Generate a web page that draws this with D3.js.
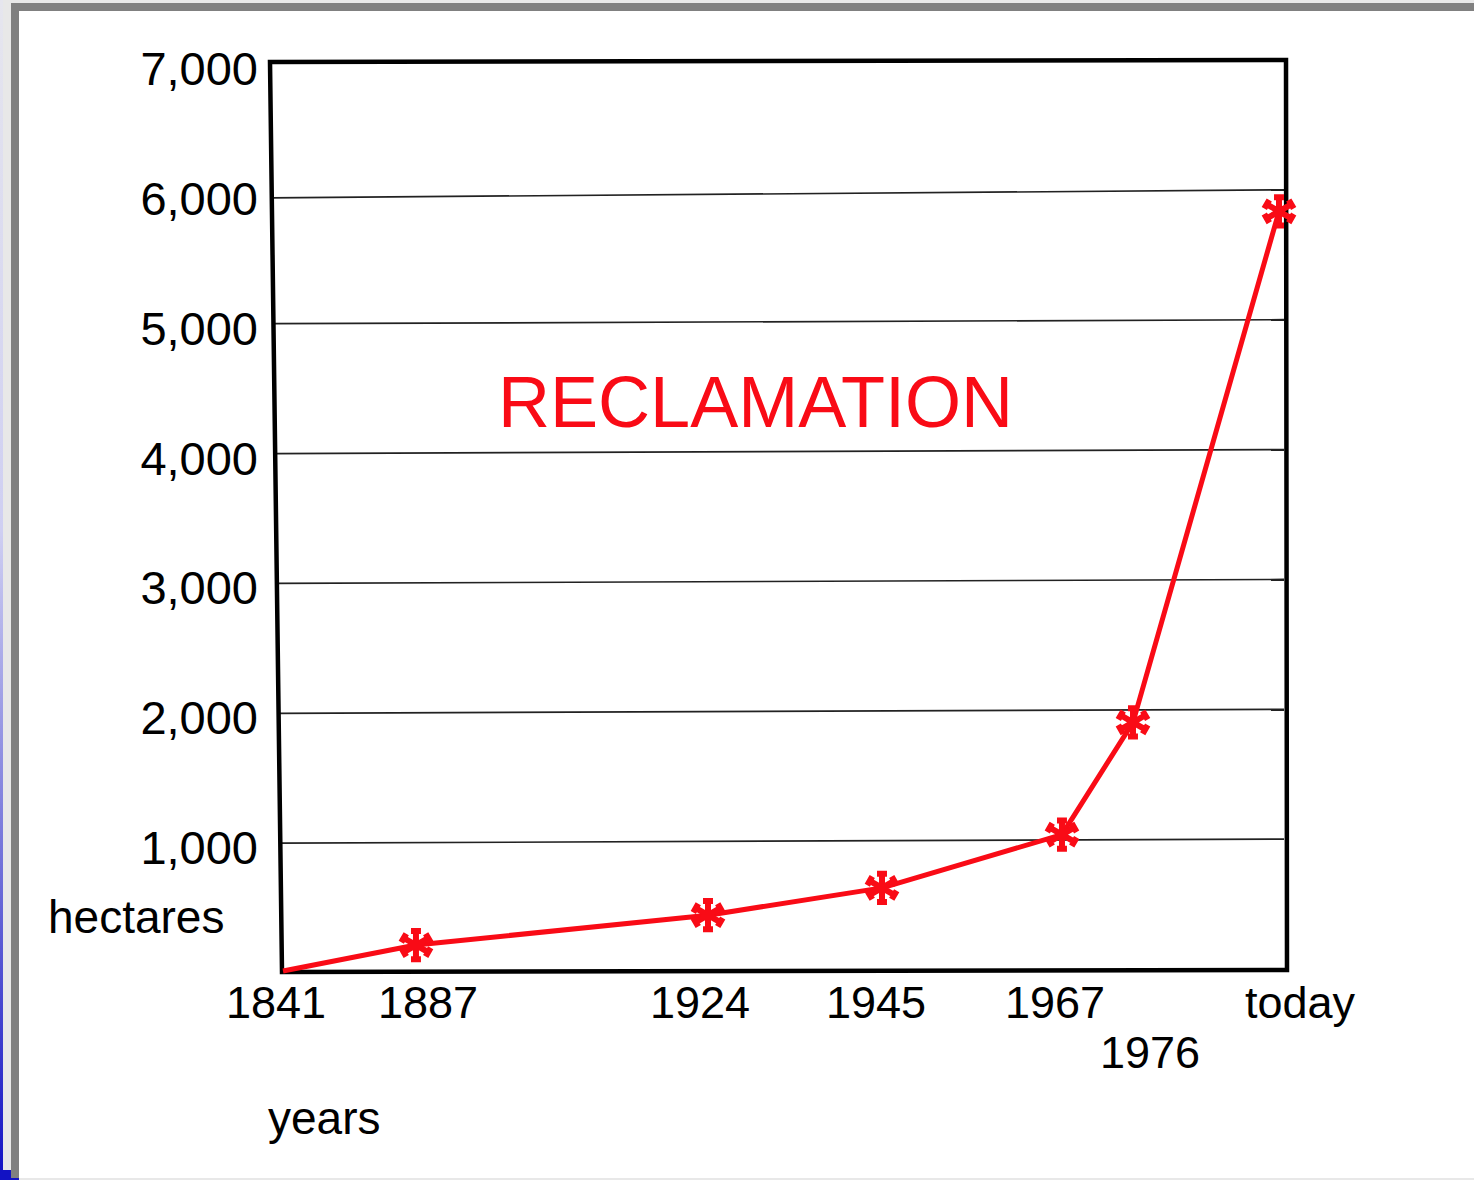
<!DOCTYPE html>
<html>
<head>
<meta charset="utf-8">
<script src="https://cdn.jsdelivr.net/npm/d3@7"></script>
<style>
  html, body { margin: 0; padding: 0; background: #ffffff; }
  svg { display: block; }
  text { font-family: "Liberation Sans", Arial, Helvetica, sans-serif; }
</style>
</head>
<body>
<svg id="chart" width="1474" height="1180"></svg>
<script>
// ---------------- data ----------------
const yearLabels = ["1841", "1887", "1924", "1945", "1967", "1976", "today"];
const hectares   = [0, 200, 430, 640, 1050, 1915, 5850];
const hasMarker  = [false, true, true, true, true, true, true];
const yTicks     = [1000, 2000, 3000, 4000, 5000, 6000, 7000];
const yTickLabels = ["1,000", "2,000", "3,000", "4,000", "5,000", "6,000", "7,000"];
const titleText  = "RECLAMATION";
const yAxisTitle = "hectares";
const xAxisTitle = "years";

// ---------------- layout ----------------
// relative horizontal placement of each year along the (hand-drawn) axis
const xPlacement = [0, 0.1335, 0.4267, 0.6014, 0.7821, 0.8534, 1];
const labelNudge = [-7, 12, -8, -6, -7, 17, 21];
const labelRow   = [0, 0, 0, 0, 0, 1, 0];

const W = 1474, H = 1180;
const svg = d3.select("#chart");
const RED = "#f90b16";

// window frame decorations
const defs = svg.append("defs");
const grad = defs.append("linearGradient").attr("id", "sideBlue")
  .attr("x1", 0).attr("y1", 0).attr("x2", 0).attr("y2", 1);
grad.append("stop").attr("offset", 0).attr("stop-color", "#e6e6ee");
grad.append("stop").attr("offset", 0.45).attr("stop-color", "#cfcff2");
grad.append("stop").attr("offset", 0.75).attr("stop-color", "#6b6bd8");
grad.append("stop").attr("offset", 1).attr("stop-color", "#1212c4");

svg.append("rect").attr("x", 0).attr("y", 0).attr("width", W).attr("height", H).attr("fill", "#e8e8e8");
svg.append("rect").attr("x", 0).attr("y", 0).attr("width", 3).attr("height", H).attr("fill", "url(#sideBlue)");
svg.append("rect").attr("x", 11).attr("y", 3).attr("width", W - 11).attr("height", H - 5).attr("fill", "#808080");
svg.append("rect").attr("x", 19).attr("y", 11).attr("width", W - 19).attr("height", H - 13).attr("fill", "#ffffff");
svg.append("rect").attr("x", 0).attr("y", 1170).attr("width", 11).attr("height", 10).attr("fill", "#1212c4");
svg.append("rect").attr("x", 11).attr("y", 1178).attr("width", 8).attr("height", 2).attr("fill", "#1212c4");

// ---------------- scales ----------------
const xUnit = d3.scaleLinear().domain([0, 1]).range([283, 1279]);
const x = i => xUnit(xPlacement[i]);
const y = d3.scaleLinear().domain([0, 7000]).range([971, 62]);

// hand-drawn frame: left edge leans slightly
const frameBottom = y(0), frameTop = y(7000);
const leftBottom = xUnit(0) - 1, leftTop = leftBottom - 12;
const rightX = xUnit(1) + 7;
const leftAt = yy => leftTop + (leftBottom - leftTop) * (yy - frameTop) / (frameBottom - frameTop);

// gridlines (slightly rising to the right, as drawn)
svg.append("g").selectAll("line").data(yTicks.slice(0, -1)).join("line")
  .attr("x1", d => leftAt(y(d)))
  .attr("x2", rightX - 2)
  .attr("y1", d => y(d) + (d === 6000 ? 6 : 2))
  .attr("y2", d => y(d) - 2)
  .attr("stroke", "#222")
  .attr("stroke-width", 1.7);

// frame
svg.append("path")
  .attr("d", `M${leftTop},${frameTop} L${rightX},${frameTop - 2} L${rightX + 1},${frameBottom - 1} L${leftBottom},${frameBottom + 1} Z`)
  .attr("fill", "none")
  .attr("stroke", "#000")
  .attr("stroke-width", 4.5)
  .attr("stroke-linejoin", "miter");

// y tick labels
svg.append("g").selectAll("text").data(yTicks).join("text")
  .attr("x", 258)
  .attr("y", d => y(d) + 23)
  .attr("text-anchor", "end")
  .attr("font-size", 47)
  .attr("fill", "#000")
  .text((d, i) => yTickLabels[i]);

// x labels
svg.append("g").selectAll("text").data(yearLabels).join("text")
  .attr("x", (d, i) => x(i) + labelNudge[i])
  .attr("y", (d, i) => labelRow[i] ? 1068 : 1018)
  .attr("text-anchor", "middle")
  .attr("font-size", 45)
  .attr("fill", "#000")
  .text(d => d);

// axis titles
svg.append("text").attr("x", 48).attr("y", 933).attr("font-size", 46).attr("fill", "#000").text(yAxisTitle);
svg.append("text").attr("x", 268).attr("y", 1134).attr("font-size", 46).attr("fill", "#000").text(xAxisTitle);

// title
svg.append("text").attr("x", 498).attr("y", 427).attr("font-size", 72).attr("fill", RED)
  .attr("textLength", 515).attr("lengthAdjust", "spacingAndGlyphs")
  .text(titleText);

// data line
const pts = hectares.map((v, i) => ({ i, v }));
svg.append("path")
  .datum(pts)
  .attr("d", d3.line().x(d => x(d.i)).y(d => y(d.v)))
  .attr("fill", "none")
  .attr("stroke", RED)
  .attr("stroke-width", 5)
  .attr("stroke-linejoin", "round");

// markers: asterisk with small serifs at the arm ends
const serifStar = {
  draw(context, size) {
    const r = Math.sqrt(size) * 0.59436;
    const s = r * 0.3;
    for (const a of [90, 210, 330, 270, 30, 150]) {
      const rad = a * Math.PI / 180;
      const ex = r * Math.cos(rad), ey = r * Math.sin(rad);
      context.moveTo(0, 0);
      context.lineTo(ex, ey);
      const px = -Math.sin(rad) * s, py = Math.cos(rad) * s;
      context.moveTo(ex * 0.85 - px, ey * 0.85 - py);
      context.lineTo(ex * 0.85 + px, ey * 0.85 + py);
    }
  }
};
const star = d3.symbol().type(serifStar).size(780);
svg.append("g").selectAll("path").data(pts.filter(d => hasMarker[d.i])).join("path")
  .attr("transform", d => `translate(${x(d.i)},${y(d.v)})`)
  .attr("d", star)
  .attr("fill", "none")
  .attr("stroke", RED)
  .attr("stroke-width", 6)
  .attr("stroke-linecap", "butt");
</script>
</body>
</html>
